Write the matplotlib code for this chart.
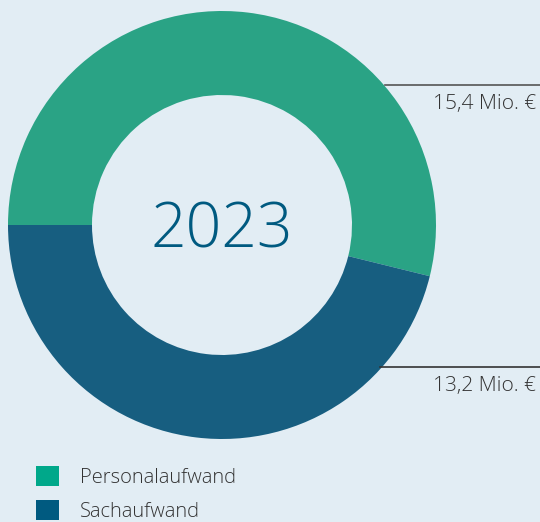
import matplotlib.pyplot as plt
from matplotlib.patches import Patch

# data
categories = ['Personalaufwand', 'Sachaufwand']
values = [15.4, 13.2]
value_labels = ['15,4 Mio. €', '13,2 Mio. €']
year = '2023'

bg = '#e2edf4'
ring_colors = ['#2aa385', '#175e80']
legend_colors = ['#00a88a', '#005a80']

plt.rcParams['font.family'] = ['Open Sans', 'DejaVu Sans']

fig = plt.figure(figsize=(5.4, 5.22), dpi=100, facecolor=bg)
ax = fig.add_axes([0, 0, 1, 1])
ax.set_facecolor(bg)

cx, cy = 222, 522 - 225
ax.pie(values, colors=ring_colors, startangle=180, counterclock=False,
       center=(cx, cy), radius=214, wedgeprops=dict(width=84, linewidth=0),
       frame=True)
ax.set_xlim(0, 540)
ax.set_ylim(0, 522)
ax.set_aspect('equal')
ax.axis('off')

ax.text(cx, cy - 6, year, ha='center', va='center', fontsize=45,
        fontweight='light', color='#005a80')

# callout lines
ax.plot([385, 540], [522 - 85, 522 - 85], color='#555555', lw=1.2)
ax.text(536, 522 - 104, value_labels[0], ha='right', va='center', fontsize=15,
        fontweight='light', color='#333333')
ax.plot([380, 540], [522 - 367, 522 - 367], color='#333333', lw=1.2)
ax.text(536, 522 - 386, value_labels[1], ha='right', va='center', fontsize=15,
        fontweight='light', color='#333333')

handles = [Patch(facecolor=c, edgecolor='none') for c in legend_colors]
leg = ax.legend(handles, categories, loc='lower left', bbox_to_anchor=(18 / 540, -18 / 522),
                frameon=False, handlelength=1.15, handleheight=1.15,
                handletextpad=1.05, labelspacing=0.62, labelcolor='#333333',
                prop={'weight': 'light', 'size': 14.5})

fig.savefig('out.png', dpi=100, facecolor=bg)
